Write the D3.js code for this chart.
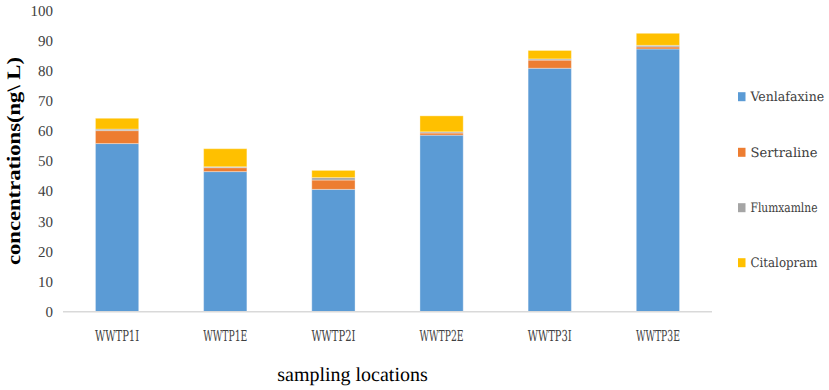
<!DOCTYPE html>
<html><head><meta charset="utf-8">
<script src="https://cdn.jsdelivr.net/npm/d3@7"></script>
<style>body{margin:0;background:#fff}svg{display:block}text{text-rendering:geometricPrecision}</style>
</head><body>
<svg id="c" width="829" height="390"></svg>
<script>
const categories = ["WWTP1I","WWTP1E","WWTP2I","WWTP2E","WWTP3I","WWTP3E"];
const seriesNames = ["Venlafaxine","Sertraline","Flumxamlne","Citalopram"];
const venlafaxine = [55.8, 46.5, 40.6, 58.6, 80.8, 87.2];
const sertraline  = [4.3, 1.3, 3.1, 0.7, 2.7, 0.7];
const flumxamlne  = [0.5, 0.3, 0.8, 0.4, 0.4, 0.5];
const citalopram  = [3.6, 6.0, 2.4, 5.3, 2.8, 4.0];
const yTicks = [0,10,20,30,40,50,60,70,80,90,100];
const colors = ["#5B9BD5","#ED7D31","#A5A5A5","#FFC000"];

const seriesVals = [venlafaxine, sertraline, flumxamlne, citalopram];
const table = categories.map((c,i)=>{const o={cat:c};seriesNames.forEach((s,j)=>o[s]=seriesVals[j][i]);return o;});

const svg = d3.select("#c");
const x = d3.scaleBand().domain(categories).range([63,712]).paddingInner(0.6).paddingOuter(0.3);
const y = d3.scaleLinear().domain([0,100]).range([311.7,10.4]);

const stack = d3.stack().keys(seriesNames)(table);
svg.append("g").selectAll("g").data(stack).join("g")
  .attr("fill",(d,i)=>colors[i])
  .selectAll("rect").data(d=>d).join("rect")
  .attr("x",d=>x(d.data.cat))
  .attr("width",x.bandwidth())
  .attr("y",d=>y(d[1]))
  .attr("height",d=>y(d[0])-y(d[1]))
  .attr("stroke","#ffffff").attr("stroke-opacity",0.35).attr("stroke-width",1);

// x axis line
svg.append("line").attr("x1",63).attr("x2",712).attr("y1",y(0)).attr("y2",y(0))
  .attr("stroke","#D9D9D9").attr("stroke-width",1.5);

// y tick labels
svg.append("g").selectAll("text").data(yTicks).join("text")
  .attr("x",53).attr("y",d=>y(d)).attr("dy","0.35em")
  .attr("text-anchor","end")
  .attr("font-family","'Liberation Serif', serif").attr("font-size",15).attr("fill","#404040")
  .text(d=>d);

// x tick labels
svg.append("g").selectAll("text").data(categories).join("text")
  .attr("x",d=>x(d)+x.bandwidth()/2).attr("y",340.5)
  .attr("text-anchor","middle")
  .attr("font-family","'DejaVu Serif', serif").attr("font-stretch","condensed").attr("font-size",15).attr("fill","#404040")
  .attr("textLength",44).attr("lengthAdjust","spacingAndGlyphs")
  .text(d=>d);

// axis titles
svg.append("text").attr("x",352.5).attr("y",381)
  .attr("text-anchor","middle").attr("font-family","'Liberation Serif', serif").attr("font-size",20).attr("fill","#000")
  .text("sampling locations");
svg.append("text").attr("transform","translate(20,161) rotate(-90)")
  .attr("text-anchor","middle").attr("font-family","'Liberation Serif', serif").attr("font-weight","bold")
  .attr("font-size",19).attr("fill","#000")
  .attr("textLength",208).attr("lengthAdjust","spacingAndGlyphs")
  .text("concentrations(ng\\ L)");

// legend
const legY = [96.7,152.3,207.7,262.7];
const leg = svg.append("g").selectAll("g").data(seriesNames).join("g")
  .attr("transform",(d,i)=>`translate(738,${legY[i]})`);
leg.append("rect").attr("x",0).attr("y",-4.5).attr("width",7.5).attr("height",9).attr("fill",(d,i)=>colors[i]);
leg.append("text").attr("x",12.5).attr("y",0).attr("dy","0.35em")
  .attr("font-family","'DejaVu Serif', serif").attr("font-stretch","condensed").attr("font-size",13).attr("fill","#404040")
  .attr("textLength",d=>d.length*6.7).attr("lengthAdjust","spacingAndGlyphs")
  .text(d=>d);
</script>
</body></html>
